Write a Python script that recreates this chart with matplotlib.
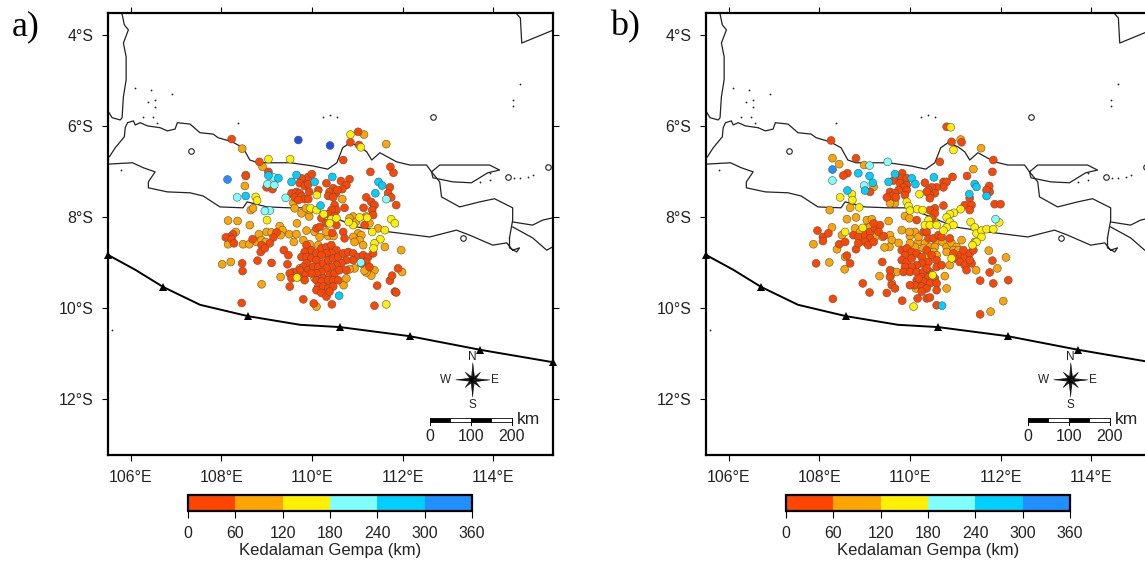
import numpy as np
import matplotlib
matplotlib.use('Agg')
import matplotlib.pyplot as plt
from matplotlib.colors import ListedColormap, BoundaryNorm
from matplotlib.cm import ScalarMappable

plt.rcParams['font.family'] = ['Liberation Sans', 'DejaVu Sans']

# depth classes (km)
depth_bounds = [0, 60, 120, 180, 240, 300, 360]
depth_colors = ['#ff4500', '#ffa500', '#fff000', '#80ffff', '#00cfff', '#2090ff']
depth_label = 'Kedalaman Gempa (km)'

lon_ticks = [106, 108, 110, 112, 114]
lat_ticks = [-4, -6, -8, -10, -12]

# coast lines, lon/lat
sumatra = [(105.81,-3.54),(105.86,-3.78),(105.95,-3.89),(105.84,-4.18),(105.90,-4.48),(105.90,-4.99),(105.84,-5.36),(105.81,-5.82),(105.77,-5.87),(105.59,-5.82),(105.51,-5.69)]
java_north = [(105.53,-6.68),(105.66,-6.48),(105.86,-6.24),(105.88,-6.04),(105.93,-5.93),(106.06,-5.89),(106.10,-5.98),(106.21,-5.93),(106.37,-6.00),(106.65,-6.04),(106.81,-6.11),(106.98,-6.07),(107.03,-5.93),(107.31,-5.96),(107.53,-6.15),(107.82,-6.18),(107.93,-6.26),(108.24,-6.35),(108.48,-6.48),(108.63,-6.75),(108.81,-6.81),(109.14,-6.81),(109.52,-6.81),(110.02,-6.88),(110.35,-6.95),(110.55,-6.81),(110.68,-6.48),(110.84,-6.37),(111.06,-6.46),(111.21,-6.57),(111.32,-6.75),(111.50,-6.59),(111.87,-6.79),(112.16,-6.86),(112.53,-6.86),(112.64,-7.01),(112.82,-7.23),(112.86,-7.56),(113.26,-7.78),(113.70,-7.67),(114.03,-7.60),(114.43,-7.80),(114.43,-8.07),(114.36,-8.46)]
madura = [(112.64,-7.01),(112.82,-6.86),(113.92,-6.86),(114.14,-6.97),(113.88,-7.03),(113.52,-7.25),(113.11,-7.23),(112.67,-7.14),(112.64,-7.01)]
java_south = [(105.51,-6.84),(106.04,-6.81),(106.28,-6.92),(106.54,-7.01),(106.39,-7.23),(106.39,-7.36),(106.81,-7.45),(107.31,-7.47),(107.60,-7.54),(107.97,-7.78),(108.48,-7.80),(108.57,-7.67),(109.01,-7.78),(109.52,-7.80),(109.96,-7.80),(110.46,-8.00),(110.99,-8.22),(111.72,-8.33),(112.60,-8.44),(113.19,-8.29),(113.48,-8.40),(113.99,-8.62),(114.30,-8.57),(114.43,-8.73),(114.58,-8.68),(114.52,-8.77),(114.36,-8.68),(114.36,-8.46)]
bali_north = [(114.43,-8.11),(114.87,-8.18),(115.09,-8.07),(115.31,-8.02)]
bali_south = [(114.43,-8.22),(114.87,-8.46),(115.18,-8.73),(115.31,-8.66)]
kalimantan = [(114.52,-3.54),(114.60,-3.63),(114.63,-4.18),(115.29,-3.91)]
coasts = [sumatra, java_north, madura, java_south, bali_north, bali_south, kalimantan]

small_isles = [(112.67,-5.80),(114.32,-7.12),(115.22,-6.90),(113.33,-8.46),(107.34,-6.55)]
tiny_isles = [(106.54,-5.58),(106.10,-5.16),(106.45,-5.21),(106.92,-5.30),(106.39,-5.47),(106.50,-5.80),(106.28,-5.80),(106.59,-5.93),(106.54,-5.43),(105.79,-6.97),(110.24,-5.80),(110.40,-5.76),(110.55,-5.80),(108.37,-5.93),(114.47,-7.14),(114.76,-7.12),(114.60,-7.14),(113.92,-7.03),(113.70,-7.23),(113.92,-7.19),(114.87,-7.08),(114.60,-5.08),(114.43,-5.43),(114.43,-5.56),(105.59,-10.48)]

trench = [(105.51,-8.84),(106.10,-9.16),(106.72,-9.54),(107.53,-9.93),(108.59,-10.18),(109.74,-10.37),(110.62,-10.42),(112.16,-10.62),(113.72,-10.92),(115.31,-11.19)]
trench_teeth = [(105.51,-8.84),(106.72,-9.54),(108.59,-10.18),(110.62,-10.42),(112.16,-10.62),(113.72,-10.92),(115.31,-11.19)]

# panel a events, lon/lat per depth class
a_0_60 = [(108.23,-6.29),(111.02,-6.13),(110.85,-6.36),(111.04,-6.42),(110.69,-6.75),(108.84,-6.79),(109.04,-7.01),(108.54,-7.10),(111.29,-7.01),(111.73,-6.90),(111.80,-7.03),(109.83,-7.23),(109.92,-7.12),(110.00,-7.06),(109.77,-7.15),(109.73,-7.26),(109.84,-7.32),(109.92,-7.28),(109.00,-7.35),(109.13,-7.39),(110.32,-7.26),(110.64,-7.21),(110.83,-7.17),(110.76,-7.30),(110.67,-7.39),(110.47,-7.37),(110.39,-7.45),(110.53,-7.48),(110.36,-7.54),(110.47,-7.57),(110.56,-7.41),(110.14,-7.41),(109.94,-7.45),(109.55,-7.48),(109.66,-7.45),(109.73,-7.48),(109.62,-7.57),(109.77,-7.54),(109.84,-7.61),(109.92,-7.61),(109.70,-7.63),(111.20,-7.57),(111.31,-7.67),(111.38,-7.74),(111.72,-7.35),(111.68,-7.48),(111.75,-7.57),(111.86,-7.74),(110.72,-7.80),(111.14,-7.80),(111.33,-7.85),(111.35,-7.96),(110.50,-7.74),(110.54,-7.85),(110.43,-7.85),(110.36,-7.94),(110.50,-7.98),(110.21,-8.03),(110.10,-8.25),(110.17,-8.22),(110.32,-8.14),(110.54,-8.18),(110.45,-8.35),(110.69,-8.33),(110.72,-8.47),(111.16,-8.18),(108.26,-8.38),(108.19,-8.44),(108.10,-8.45),(108.23,-8.49),(108.28,-8.58),(108.69,-8.49),(109.22,-8.34),(109.15,-8.45),(109.07,-8.58),(108.89,-8.62),(108.87,-8.77),(108.96,-8.69),(109.38,-8.73),(109.48,-8.84),(109.46,-9.04),(109.11,-9.01),(108.80,-8.96),(108.46,-9.02),(108.47,-9.19),
    (109.88,-8.62),(109.99,-8.73),(109.84,-8.77),(109.77,-8.88),(109.88,-8.88),(109.99,-8.91),(110.10,-8.80),(110.21,-8.69),(110.32,-8.66),(110.43,-8.62),(110.54,-8.73),(110.43,-8.80),(110.32,-8.80),(110.21,-8.84),(110.10,-8.95),(109.88,-9.02),(109.81,-9.10),(109.92,-9.17),(110.03,-9.10),(110.14,-9.10),(110.25,-9.02),(110.36,-8.95),(110.47,-8.91),(110.58,-8.88),(110.69,-8.80),(110.80,-8.77),(110.91,-8.80),(111.02,-8.88),(111.13,-8.84),(111.24,-8.88),(111.35,-8.80),(111.20,-8.99),(111.09,-9.02),(110.91,-8.95),(110.76,-8.95),(110.65,-9.02),(110.54,-9.06),(110.43,-9.10),(110.32,-9.13),(110.21,-9.21),(110.10,-9.24),(109.99,-9.24),(109.84,-9.28),(109.73,-9.17),(109.59,-9.21),(109.51,-9.24),(109.55,-9.35),(109.70,-9.32),(109.84,-9.39),(110.25,-9.35),(110.39,-9.28),(110.50,-9.24),(110.61,-9.17),(110.76,-9.17),(110.10,-9.39),(110.21,-9.42),(110.36,-9.39),(110.47,-9.39),(110.58,-9.39),(110.14,-9.53),(110.25,-9.53),(110.36,-9.57),(110.47,-9.53),(110.10,-9.61),(110.21,-9.67),(110.32,-9.75),(110.39,-9.64),(111.27,-9.10),(109.51,-9.53),(109.81,-9.81),(110.04,-9.90),(110.44,-9.92),(111.38,-9.95),(108.45,-9.89),(111.44,-9.51),(111.72,-9.40),(111.77,-9.29),(111.83,-9.64),(111.86,-9.66),(111.90,-9.13)]
a_60_120 = [(111.15,-6.19),(111.64,-6.40),(108.46,-6.50),(108.91,-6.90),(108.54,-7.08),(108.52,-7.32),(108.15,-8.08),(108.36,-8.09),(108.63,-8.18),(108.32,-8.33),(108.65,-7.85),(108.70,-7.81),(109.59,-7.69),(109.62,-7.81),(109.77,-7.92),(109.94,-7.99),(109.67,-8.14),(109.88,-8.30),(109.50,-8.38),(109.66,-8.38),(109.81,-8.51),(109.60,-8.55),(109.00,-8.33),(108.83,-8.38),(109.11,-8.34),(109.29,-8.20),(109.35,-8.29),(109.31,-8.40),(108.48,-8.60),(108.62,-8.60),(108.15,-8.60),(108.78,-8.55),(108.89,-8.51),(108.98,-8.55),(108.02,-9.04),(108.21,-8.99),(108.89,-9.48),(109.31,-9.32),(110.06,-8.33),(110.17,-8.44),(110.36,-8.42),(110.48,-8.42),(110.32,-8.33),(109.95,-7.85),(109.87,-7.81),(110.67,-7.61),(110.91,-7.99),(110.83,-8.03),(110.97,-8.11),(111.02,-8.36),(111.09,-8.40),(110.91,-8.44),(111.05,-8.51),(110.94,-8.55),(111.13,-8.62),(111.27,-8.14),(111.20,-7.99),(111.46,-8.25),(111.61,-8.66),(111.97,-8.73),(111.99,-9.21),(111.38,-9.17),(111.31,-9.29),(111.20,-9.22),(110.94,-9.13),(110.83,-9.15),(111.16,-9.18),(109.73,-9.13),(109.62,-9.30),(110.10,-9.97),(110.70,-9.50),(110.25,-8.73),(109.95,-8.60),(110.14,-8.62),(110.76,-9.35),(110.32,-9.48),(110.06,-9.35),(109.95,-8.80),(110.47,-8.73)]
a_120_180 = [(110.85,-6.19),(111.08,-6.47),(109.04,-6.73),(109.52,-6.73),(108.76,-7.56),(108.79,-7.64),(110.11,-7.52),(109.01,-8.07),(109.97,-7.81),(110.10,-7.85),(110.26,-7.94),(110.43,-8.05),(110.54,-8.03),(110.39,-8.14),(110.91,-8.18),(110.81,-8.11),(111.05,-8.01),(111.22,-8.02),(111.75,-8.05),(111.83,-8.14),(111.33,-8.33),(111.61,-8.29),(111.51,-8.49),(111.38,-8.58),(111.36,-8.69),(109.67,-9.33),(111.64,-9.92)]
a_180_240 = [(108.35,-7.57),(109.42,-7.58),(109.02,-7.28),(109.17,-7.30),(109.15,-7.13),(109.07,-7.86),(108.96,-7.87),(111.64,-7.61),(111.08,-9.00)]
a_240_300 = [(108.54,-7.54),(109.04,-7.09),(109.26,-7.15),(109.66,-7.08),(109.55,-7.23),(110.06,-7.23),(110.45,-7.12),(111.47,-7.23),(111.55,-7.31),(111.40,-7.48),(110.19,-7.75),(110.60,-9.73)]
a_300_360 = [(108.12,-7.16)]
a_deep = [(109.70,-6.31),(110.40,-6.43)]

# panel b events
b_0_60 = [(110.81,-6.02),(110.92,-6.35),(111.14,-6.36),(108.26,-6.32),(108.81,-6.71),(110.66,-6.79),(111.84,-6.75),(111.82,-7.01),(108.62,-7.04),(108.53,-7.09),(110.94,-7.12),(111.26,-7.10),(110.33,-7.25),(109.83,-7.04),(109.71,-7.15),(109.64,-7.20),(109.82,-7.15),(109.93,-7.15),(109.78,-7.26),(109.93,-7.30),(109.86,-7.35),(109.75,-7.41),(109.93,-7.41),(109.56,-7.45),(109.67,-7.48),(109.60,-7.54),(109.69,-7.57),(109.49,-7.57),(109.89,-7.52),(109.12,-7.45),(110.74,-7.23),(110.81,-7.23),(110.74,-7.35),(110.59,-7.35),(110.48,-7.35),(110.41,-7.41),(110.55,-7.48),(110.44,-7.52),(110.37,-7.45),(110.44,-7.59),(111.75,-7.32),(111.76,-7.45),(111.69,-7.41),(111.32,-7.59),(111.21,-7.74),(111.36,-7.74),(111.32,-7.85),(111.87,-7.72),(112.00,-7.72),(110.74,-7.75),(110.55,-7.81),(110.44,-7.85),(110.55,-7.92),(110.48,-8.03),(110.15,-8.07),(110.30,-8.33),(110.37,-8.33),(110.41,-8.47),(110.52,-8.47),(110.63,-8.40),(110.70,-8.44),(110.88,-8.47),(107.96,-8.30),(108.08,-8.44),(108.20,-8.36),(108.08,-8.53),(108.44,-8.60),(108.57,-8.55),(107.93,-9.02),(108.68,-9.02),(108.61,-8.85),(109.39,-8.99),(108.96,-9.46),(109.11,-9.66),(109.49,-9.67),(108.30,-9.80),(109.83,-9.84),(110.17,-9.79),(110.37,-9.79),(110.44,-9.77),(110.59,-9.94),(111.55,-10.14),(111.55,-9.40),(111.84,-9.46),(112.17,-9.39),(111.76,-9.22),(111.82,-8.96),(108.81,-8.71),
    (108.75,-8.40),(108.86,-8.44),(109.01,-8.40),(109.12,-8.33),(109.23,-8.25),(109.34,-8.18),(109.20,-8.14),(109.31,-8.33),(109.12,-8.47),(109.01,-8.55),(109.08,-8.62),(108.86,-8.58),(109.20,-8.55),(109.42,-8.42),
    (109.82,-8.73),(109.93,-8.69),(110.04,-8.77),(109.89,-8.84),(109.82,-8.95),(109.93,-8.99),(110.04,-8.91),(110.15,-8.80),(110.26,-8.88),(110.37,-8.73),(110.48,-8.84),(110.59,-8.95),(110.41,-8.99),(110.26,-9.02),(110.15,-9.06),(110.04,-9.10),(109.89,-9.10),(109.86,-9.21),(110.00,-9.21),(110.15,-9.21),(110.30,-9.21),(110.44,-9.21),(110.59,-9.10),(110.70,-9.06),(110.37,-9.13),(110.26,-9.32),(110.41,-9.32),(110.55,-9.35),(110.15,-9.39),(110.30,-9.42),(110.44,-9.46),(110.59,-9.46),(110.11,-9.50),(110.26,-9.53),(110.37,-9.57),(110.26,-9.64),(110.59,-9.61),(110.19,-9.35),(110.00,-9.50),(109.56,-9.32),(109.60,-9.50),(109.67,-9.57),(109.56,-9.17),
    (111.10,-8.84),(111.21,-8.88),(111.32,-8.80),(111.40,-8.73),(110.99,-8.91),(111.10,-8.99),(111.21,-9.06),(111.36,-9.02),(111.25,-9.17),(111.32,-8.95),(111.18,-8.73),(110.96,-8.80)]
b_60_120 = [(111.12,-6.30),(111.57,-6.49),(108.29,-6.71),(108.44,-6.84),(108.99,-6.86),(111.40,-6.95),(108.23,-7.85),(108.68,-7.80),(108.61,-8.05),(108.81,-8.01),(109.53,-8.09),(108.28,-8.23),(108.50,-8.40),(107.87,-8.60),(108.39,-8.71),(108.22,-9.00),(108.57,-8.88),(108.56,-9.15),(109.33,-9.30),(109.60,-9.19),(109.71,-9.21),(109.58,-9.28),(109.60,-9.46),(109.40,-8.44),(109.56,-8.40),(109.60,-8.51),(109.55,-8.66),(109.44,-8.67),(109.82,-8.29),(110.00,-8.42),(110.19,-8.55),(110.11,-8.33),(109.99,-8.33),(109.75,-8.57),(109.89,-7.98),(109.99,-8.03),(109.67,-7.70),(109.56,-7.70),(109.05,-8.07),(109.16,-8.05),(108.79,-8.25),(108.90,-8.33),(109.01,-8.25),(109.12,-8.22),(109.23,-8.44),(108.90,-8.51),(110.41,-8.14),(110.52,-8.07),(110.33,-8.58),(110.19,-8.44),(110.11,-8.66),(110.00,-8.58),(110.30,-8.69),(110.44,-8.66),(110.59,-8.55),(110.55,-8.66),(110.72,-8.55),(110.81,-8.66),(110.92,-8.58),(111.03,-8.66),(111.14,-8.51),(110.96,-8.73),(111.07,-8.73),(110.81,-8.77),(111.43,-8.55),(111.46,-9.17),(111.74,-8.74),(112.12,-8.89),(111.93,-9.13),(112.06,-9.85),(111.78,-10.08),(110.81,-9.57),(110.77,-9.30),(110.13,-9.57),(109.20,-7.34),(110.37,-8.88),(110.52,-8.77),(110.59,-8.84),(110.33,-9.39),(110.44,-9.39),(110.88,-9.06)]
b_120_180 = [(110.90,-6.03),(110.96,-6.53),(108.46,-7.57),(108.72,-7.50),(108.73,-7.63),(108.88,-7.79),(109.93,-7.67),(109.97,-7.76),(110.00,-7.86),(110.16,-7.83),(110.28,-7.85),(110.21,-7.50),(111.12,-7.83),(110.97,-7.91),(110.88,-7.94),(110.81,-8.01),(110.88,-8.11),(110.96,-8.18),(110.81,-8.23),(110.74,-8.30),(111.34,-8.11),(111.43,-8.23),(111.47,-8.36),(111.58,-8.30),(111.69,-8.27),(111.84,-8.27),(111.58,-8.44),(111.47,-8.55),(111.38,-8.62),(110.92,-8.91),(110.50,-9.28),(110.08,-9.97),(108.57,-8.33),(108.96,-8.24),(110.41,-8.07),(110.33,-8.18),(110.44,-8.18),(111.97,-8.12),(110.59,-8.18)]
b_180_240 = [(109.51,-6.79),(109.11,-6.87),(108.29,-7.20),(108.99,-7.31),(111.89,-8.05)]
b_240_300 = [(108.86,-7.04),(109.11,-7.10),(109.18,-7.25),(109.01,-7.42),(108.62,-7.42),(109.67,-7.06),(109.53,-7.23),(110.04,-7.15),(110.12,-7.28),(110.53,-7.13),(111.43,-7.28),(111.47,-7.34),(111.31,-7.50),(111.69,-7.54),(110.71,-9.95)]
b_300_360 = [(108.29,-6.94)]

cmap = ListedColormap(depth_colors)
cmap.set_over('#2050e0')
norm = BoundaryNorm(depth_bounds, cmap.N)

W, H = 1145, 561


def px_axes(fig, l, t, r, b):
    return fig.add_axes([l / W, 1 - b / H, (r - l) / W, (b - t) / H])


def deg_s(v):
    return '%d\u00b0S' % abs(v)


def compass(ax, lon0, lat0):
    for k in range(8):
        a = k * np.pi / 4
        r = 0.38 if k % 2 == 0 else 0.24
        tip = np.array([np.cos(a), np.sin(a)]) * r
        side = np.array([-np.sin(a), np.cos(a)]) * 0.045
        ax.fill([lon0, lon0 + side[0], lon0 + tip[0]], [lat0, lat0 + side[1], lat0 + tip[1]], color='#222222', lw=0, zorder=6)
        ax.fill([lon0, lon0 - side[0], lon0 + tip[0]], [lat0, lat0 - side[1], lat0 + tip[1]], color='black', lw=0.3, zorder=6)
    for s, dx, dy in [('N', 0, 0.50), ('S', 0, -0.56), ('E', 0.49, 0), ('W', -0.60, 0)]:
        ax.text(lon0 + dx, lat0 + dy, s, ha='center', va='center', fontsize=8.5, color='#222222')


def scale_bar(ax):
    edges = [112.60, 113.05, 113.51, 113.96, 114.41]
    for i in range(4):
        ax.fill([edges[i], edges[i + 1], edges[i + 1], edges[i]], [-12.42, -12.42, -12.50, -12.50],
                facecolor='black' if i % 2 == 0 else 'white', edgecolor='black', lw=0.6, zorder=6)
    for x, s in zip(edges[::2], ['0', '100', '200']):
        ax.plot([x, x], [-12.42, -12.58], color='black', lw=0.7, zorder=6)
        ax.text(x, -12.82, s, ha='center', va='center', fontsize=11.4, color='#222222')
    ax.text(114.79, -12.44, 'km', ha='center', va='center', fontsize=12.5, color='#222222')


def panel(fig, dx, label, label_x, groups):
    ax = px_axes(fig, 108 + dx, 13, 553 + dx, 455)
    ax.set_xlim(105.5, 115.32)
    ax.set_ylim(-13.23, -3.52)
    for line in coasts:
        xy = np.array(line)
        ax.plot(xy[:, 0], xy[:, 1], color='#222222', lw=0.9, zorder=2)
    xy = np.array(small_isles)
    ax.plot(xy[:, 0], xy[:, 1], 'o', ms=4, mfc='white', mec='#222222', mew=0.8, zorder=2)
    xy = np.array(tiny_isles)
    ax.plot(xy[:, 0], xy[:, 1], 'o', ms=1.3, color='#222222', mew=0, zorder=2)
    xy = np.array(trench)
    ax.plot(xy[:, 0], xy[:, 1], color='black', lw=1.4, zorder=2)
    xy = np.array(trench_teeth)
    ax.plot(xy[:, 0], xy[:, 1], '^', ms=6, color='black', mew=0, zorder=2, clip_on=False)
    for pts, d in groups:
        xy = np.array(pts)
        ax.scatter(xy[:, 0], xy[:, 1], c=np.full(len(xy), d), cmap=cmap, norm=norm, s=32,
                   edgecolors='#555555', linewidths=0.4, zorder=4)
    compass(ax, 113.55, -11.58)
    scale_bar(ax)
    ax.set_xticks(lon_ticks)
    ax.set_xticklabels(['%d\u00b0E' % v for v in lon_ticks], fontsize=11.4, color='#222222')
    ax.set_yticks(lat_ticks)
    ax.set_yticklabels([deg_s(v) for v in lat_ticks], fontsize=11.4, color='#222222')
    ax.tick_params(top=True, right=True, length=4.5, width=0.8, pad=6, direction='out')
    for s in ax.spines.values():
        s.set_linewidth(1.6)

    cax = px_axes(fig, 188 + dx, 495, 472 + dx, 511)
    cb = fig.colorbar(ScalarMappable(norm=norm, cmap=cmap), cax=cax, orientation='horizontal',
                      ticks=depth_bounds, spacing='proportional')
    cb.outline.set_linewidth(1.6)
    cb.ax.tick_params(length=5, width=0.8, pad=6, labelsize=11.4, labelcolor='#222222')
    cb.ax.minorticks_off()
    cb.set_label(depth_label, fontsize=12, color='#222222', labelpad=1.5)

    fig.text(label_x / W, 1 - 27 / H, label, family='Liberation Serif', fontsize=26, ha='center', va='center')


fig = plt.figure(figsize=(W / 100, H / 100), dpi=100, facecolor='white')
panel(fig, 0, 'a)', 26, [(a_60_120, 90), (a_0_60, 30), (a_120_180, 150), (a_180_240, 210),
                         (a_240_300, 270), (a_300_360, 330), (a_deep, 380)])
panel(fig, 598, 'b)', 625, [(b_60_120, 90), (b_0_60, 30), (b_120_180, 150), (b_180_240, 210),
                            (b_240_300, 270), (b_300_360, 330)])
fig.savefig('out.png', dpi=100)
